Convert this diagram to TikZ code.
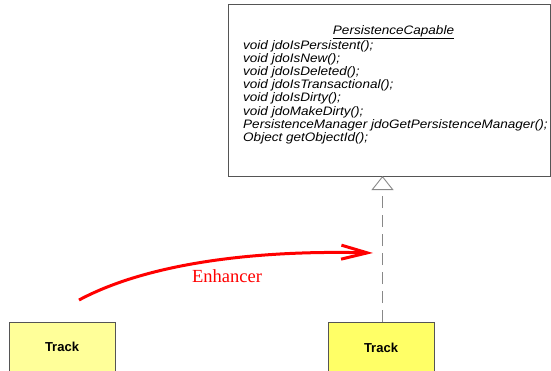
\documentclass[tikz,border=0pt]{standalone}
\usepackage{fontspec}
\setmainfont{Liberation Serif}
\newfontfamily\arial{Liberation Sans}
\newfontfamily\arialwide[FakeStretch=1.1]{Liberation Sans}
\usetikzlibrary{arrows.meta}
\definecolor{boxline}{HTML}{555555}
\definecolor{dashgray}{HTML}{888888}
\definecolor{lightyellow}{HTML}{FFFF99}
\definecolor{brightyellow}{HTML}{FFFF66}
\definecolor{enhred}{HTML}{FF0000}
\tikzset{
  umlbox/.style={draw=boxline, line width=0.8pt, fill=white, inner sep=0pt},
  trackbox/.style={draw=boxline, line width=0.8pt, inner sep=0pt},
  tracklabel/.style={font=\arial\bfseries\fontsize{13}{15}\selectfont, inner sep=0pt},
  umltext/.style={font=\arialwide\itshape\fontsize{12.3}{13.2}\selectfont, inner sep=0pt},
  realizes/.style={draw=dashgray, line width=0.9pt, dash pattern=on 12pt off 7pt,
    -{Triangle[open, length=14pt, width=22pt, line width=0.9pt]}},
  enhancerarrow/.style={draw=enhred, line width=3pt,
    -{Straight Barb[length=26pt, width=14pt, line width=3pt]}},
}
\begin{document}
\begin{tikzpicture}[x=1pt, y=-1pt]
\useasboundingbox (0,0) rectangle (551,370);
\clip (0,0) rectangle (551,370);
% UML class box
\node[umlbox, minimum width=322pt, minimum height=172pt, anchor=north west] (uml) at (228,4) {};
\node[umltext, anchor=center] (hdr) at (393.5,32.5) {\underline{PersistenceCapable}};
\node[umltext, align=left, anchor=north west] (ops) at (243,40)
  {void jdoIsPersistent();\\
   void jdoIsNew();\\
   void jdoIsDeleted();\\
   void jdoIsTransactional();\\
   void jdoIsDirty();\\
   void jdoMakeDirty();\\
   PersistenceManager jdoGetPersistenceManager();\\
   Object getObjectId();};
% Track boxes
\node[trackbox, fill=lightyellow, minimum width=106pt, minimum height=52pt, anchor=north west] (trackL) at (9,322) {};
\node[tracklabel] (trackLtext) at (62,347) {Track};
\node[trackbox, fill=brightyellow, minimum width=106pt, minimum height=52pt, anchor=north west] (trackR) at (328,322) {};
\node[tracklabel] (trackRtext) at (381,348) {Track};
% realization
\coordinate (realtop) at (382.5,176);
\coordinate (realbot) at (382.5,322);
\draw[realizes] (realbot) -- (realtop);
% enhancer arrow
\coordinate (enhstart) at (79,300);
\coordinate (enhend) at (373,253);
\draw[enhancerarrow] (enhstart) .. controls (150,262) and (260,250) .. (enhend);
\node[text=enhred, font=\fontsize{18.5}{20}\selectfont, inner sep=0pt] (enh) at (227,276) {Enhancer};
\end{tikzpicture}
\end{document}
